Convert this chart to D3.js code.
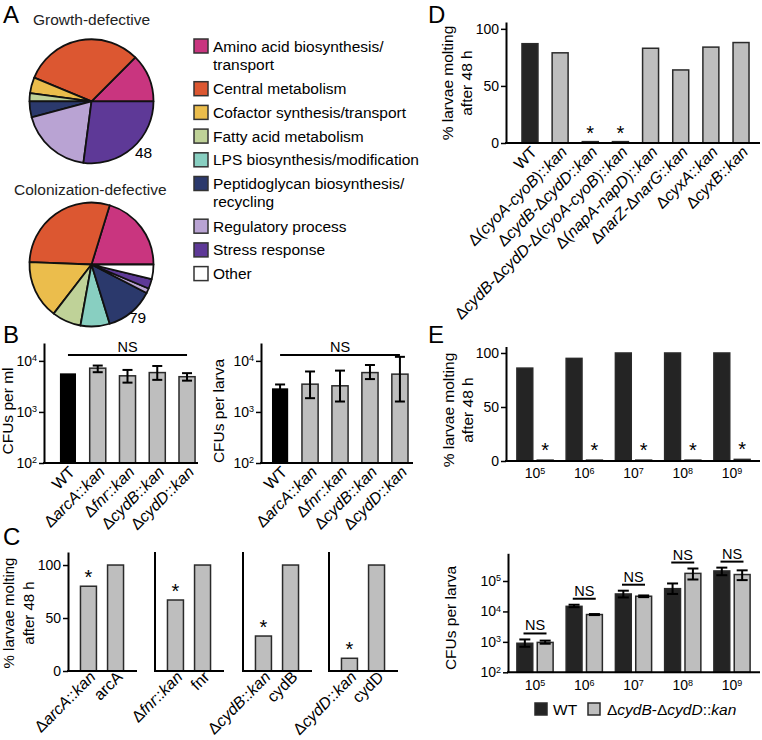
<!DOCTYPE html>
<html><head><meta charset="utf-8">
<script src="https://cdn.jsdelivr.net/npm/d3@7"></script>
<style>
body{margin:0;background:#fff}
svg{display:block;font-family:"Liberation Sans",Arial,Helvetica,sans-serif}
</style></head><body>
<svg id="chart" width="762" height="740"></svg>
<script>
// ================= DATA =================
// Panel A
const pieCategories = ["Amino acid biosynthesis/transport","Central metabolism","Cofactor synthesis/transport","Fatty acid metabolism","LPS biosynthesis/modification","Peptidoglycan biosynthesis/recycling","Regulatory process","Stress response","Other"];
const legendLines = [["Amino acid biosynthesis/","transport"],["Central metabolism"],["Cofactor synthesis/transport"],["Fatty acid metabolism"],["LPS biosynthesis/modification"],["Peptidoglycan biosynthesis/","recycling"],["Regulatory process"],["Stress response"],["Other"]];
const pieColors = ["#c9357f","#dc5731","#ebbd4c","#bfd298","#88cfc1","#2b396c","#b9a3d3","#5e3997","#ffffff"];
const growthDefectiveCounts = [6,15,2,1,0,2,9,13,0];
const colonizationDefectiveCounts = [16,23,12,6,6,10,1,2,3];
const pieTitles = ["Growth-defective","Colonization-defective"];
const pieTotals = ["48","79"];

// Panel B
const bStrains = ["WT","Δ_arcA_::_kan_","Δ_fnr_::_kan_","Δ_cydB_::_kan_","Δ_cydD_::_kan_"];
const bCfuPerMl   = [5700, 7200, 5100, 5900, 4900];
const bCfuPerMlLo = [null, 6000, 3750, 4250, 4100];
const bCfuPerMlHi = [null, 8100, 6650, 7950, 5750];
const bCfuPerLarva   = [2900, 3500, 3250, 5900, 5500];
const bCfuPerLarvaLo = [2500, 1860, 1600, 4400, 1600];
const bCfuPerLarvaHi = [3450, 6200, 6450, 8300, 12000];
const bLogTicks = [1e2, 1e3, 1e4];

// Panel C
const cLabels = [["Δ_arcA_::_kan_","arcA"],["Δ_fnr_::_kan_","fnr"],["Δ_cydB_::_kan_","cydB"],["Δ_cydD_::_kan_","cydD"]];
const cMolting = [[80,100],[67,100],[33,100],[12,100]];
const cSignificant = [[true,false],[true,false],[true,false],[true,false]];
const moltTicks = [0,50,100];

// Panel D
const dStrains = ["WT","Δ(_cyoA-cyoB_)::_kan_","Δ_cydB_-Δ_cydD_::_kan_","Δ_cydB_-Δ_cydD_-Δ(_cyoA-cyoB_)::_kan_","Δ(_napA-napD_)::_kan_","Δ_narZ_-Δ_narG_::_kan_","Δ_cyxA_::_kan_","Δ_cyxB_::_kan_"];
const dMolting = [87, 79, 1.2, 1.2, 83, 64, 84, 88];
const dSignificant = [false,false,true,true,false,false,false,false];

// Panel E
const eDoseExponents = [5,6,7,8,9];
const eSeries = ["WT","Δ_cydB_-Δ_cydD_::_kan_"];
const eWTMolting  = [86, 95, 100, 100, 100];
const eMutMolting = [0.8, 0.8, 0.8, 0.8, 1.5];
const eWTCfu   = [900, 14700, 37500, 56000, 214000];
const eWTLo    = [690, 13800, 28800, 37500, 155000];
const eWTHi    = [1200, 16600, 48000, 83000, 275000];
const eMutCfu  = [960, 7900, 31600, 178000, 163000];
const eMutLo   = [870, 7600, 29500, 112000, 107000];
const eMutHi   = [1100, 8200, 33500, 257000, 224000];
const eLogTicks = [1e2,1e3,1e4,1e5];

// ================= HELPERS =================
const svg = d3.select('#chart');
const GRAY = "#bebebe", DARK = "#242424", EDGE = "#2a2a2a";
const ROT_FS = 16;

function richText(sel, label) {
  label.split('_').forEach((p,i) => { if (p) sel.append('tspan').attr('font-style', i%2 ? 'italic' : 'normal').text(p); });
  return sel;
}
function styleAxis(g, fs) {
  g.attr('font-size', null).attr('font-family', null);
  g.select('.domain').attr('stroke','#000').attr('stroke-width',2);
  g.selectAll('.tick line').attr('stroke','#000').attr('stroke-width',1.5);
  g.selectAll('.tick text').attr('fill','#000').attr('font-size', fs);
}
function logLabels(g) {
  g.selectAll('.tick text').each(function(d){
    const t = d3.select(this); t.text(null);
    t.append('tspan').text('10');
    t.append('tspan').attr('dy','-0.5em').attr('font-size',9).text(Math.round(Math.log10(d)));
  });
}
function yAxis(g, scale, x, ticks, log) {
  const ax = g.append('g').attr('transform',`translate(${x},0)`)
    .call(d3.axisLeft(scale).tickValues(ticks).tickSize(5).tickPadding(2).tickSizeOuter(0).tickFormat(log ? () => '' : d3.format('d')));
  styleAxis(ax, 14);
  if (log) logLabels(ax);
  return ax;
}
function xLine(g, x0, x1, y) {
  g.append('line').attr('x1',x0-1).attr('x2',x1).attr('y1',y).attr('y2',y).attr('stroke','#000').attr('stroke-width',2);
}
function errorBar(g, cx, yA, yB, cap) {
  g.append('line').attr('x1',cx).attr('x2',cx).attr('y1',yA).attr('y2',yB).attr('stroke','#000').attr('stroke-width',2);
  [yA,yB].forEach(y => g.append('line').attr('x1',cx-cap/2).attr('x2',cx+cap/2).attr('y1',y).attr('y2',y).attr('stroke','#000').attr('stroke-width',2));
}
function bar(g, x, w, yTop, yBase, fill, stroke) {
  g.append('rect').attr('x',x).attr('width',w).attr('y',yTop).attr('height',Math.max(0.5,yBase-yTop))
    .attr('fill',fill).attr('stroke',stroke||'none').attr('stroke-width',stroke?1.5:0);
}
function rotLabel(g, cx, axisY, label, dy) {
  const t = g.append('text').attr('transform',`translate(${cx+8},${axisY+(dy==null?10:dy)}) rotate(-45)`)
    .attr('text-anchor','end').attr('font-size',ROT_FS);
  richText(t, label);
}
function yTitle(g, lines, xs, cy, fs) {
  lines.forEach((l,i) => g.append('text').attr('transform',`translate(${xs[i]},${cy}) rotate(-90)`)
    .attr('text-anchor','middle').attr('font-size',fs||15.5).text(l));
}
function star(g, cx, yTop) {
  g.append('text').attr('x',cx).attr('y',yTop-2).attr('text-anchor','middle').attr('font-size',20).text('*');
}
function nsMark(g, x0, x1, y) {
  g.append('line').attr('x1',x0).attr('x2',x1).attr('y1',y).attr('y2',y).attr('stroke','#000').attr('stroke-width',2);
  g.append('text').attr('x',(x0+x1)/2).attr('y',y-3).attr('text-anchor','middle').attr('font-size',14.5).text('NS');
}

// ================= PANEL LETTERS =================
[["A",3,23],["B",3,343],["C",3,545],["D",428,23],["E",428,343]].forEach(([t,x,y]) =>
  svg.append('text').attr('x',x).attr('y',y).attr('font-size',24).text(t));

// ================= PANEL A =================
const gA = svg.append('g');
function drawPie(counts, cx, cy, r) {
  const pie = d3.pie().sort(null).value(d=>d).startAngle(Math.PI/2).endAngle(Math.PI/2 - 2*Math.PI);
  const arc = d3.arc().innerRadius(0).outerRadius(r);
  gA.append('g').attr('transform',`translate(${cx},${cy})`)
    .selectAll('path').data(pie(counts).filter(a => a.value > 0)).join('path')
    .attr('d',arc).attr('fill',d=>pieColors[d.index]).attr('stroke','#111').attr('stroke-width',1.8).attr('stroke-linejoin','round');
}
gA.append('text').attr('x',33).attr('y',25).attr('font-size',15.5).attr('fill','#222').text(pieTitles[0]);
drawPie(growthDefectiveCounts, 91.5, 101.3, 62);
gA.append('text').attr('x',135).attr('y',158).attr('font-size',15.5).text(pieTotals[0]);
gA.append('text').attr('x',14).attr('y',195).attr('font-size',15.5).attr('fill','#222').text(pieTitles[1]);
drawPie(colonizationDefectiveCounts, 91.5, 264.5, 62);
gA.append('text').attr('x',129).attr('y',323).attr('font-size',15.5).text(pieTotals[1]);

let extra = 0;
legendLines.forEach((lines, i) => {
  const cy = 46 + 23.7*i + extra;
  gA.append('rect').attr('x',194).attr('y',cy-7).attr('width',14).attr('height',14)
    .attr('fill',pieColors[i]).attr('stroke','#333').attr('stroke-width',1.5);
  lines.forEach((l,j) => gA.append('text').attr('x',213).attr('y',cy+5.5+18*j).attr('font-size',15.5).text(l));
  if (lines.length > 1) extra += 19;
});

// ================= PANEL B =================
const gB = svg.append('g');
function panelB(x0, xEnd, bandRange, vals, lo, hi, title, titleX) {
  const y = d3.scaleLog().domain([100, 22400]).range([463, 343]);
  const x = d3.scaleBand().domain(bStrains).range(bandRange).paddingInner(0.46).paddingOuter(0.3);
  vals.forEach((v,i) => {
    const bx = x(bStrains[i]);
    bar(gB, bx, x.bandwidth(), y(v), 463, i===0 ? '#000' : GRAY, i===0 ? null : EDGE);
    if (lo[i] != null) errorBar(gB, bx + x.bandwidth()/2, y(lo[i]), y(hi[i]), 10);
    rotLabel(gB, bx + x.bandwidth()/2, 463, bStrains[i]);
  });
  yAxis(gB, y, x0, bLogTicks, true);
  xLine(gB, x0, xEnd, 463);
  nsMark(gB, x(bStrains[0]) + x.bandwidth()/2, x(bStrains[4]) + x.bandwidth()/2, 355);
  yTitle(gB, [title], [titleX], 411);
}
panelB(44, 198, [51, 204], bCfuPerMl, bCfuPerMlLo, bCfuPerMlHi, "CFUs per ml", 13);
panelB(261, 413, [263, 417], bCfuPerLarva, bCfuPerLarvaLo, bCfuPerLarvaHi, "CFUs per larva", 224);

// ================= PANEL C =================
const gC = svg.append('g');
const yC = d3.scaleLinear().domain([0, 112.3]).range([671, 552]);
const cAxisX = [68, 155, 243, 329];
cLabels.forEach((pair, k) => {
  const x0 = cAxisX[k];
  const x = d3.scaleBand().domain(pair).range([x0, x0+68]).paddingInner(0.41).paddingOuter(0.46);
  pair.forEach((lab, j) => {
    const bx = x(lab), cx = bx + x.bandwidth()/2, v = cMolting[k][j];
    bar(gC, bx, x.bandwidth(), yC(v), 671, GRAY, EDGE);
    if (cSignificant[k][j]) star(gC, cx, yC(v));
    rotLabel(gC, cx, 671, lab, 7);
  });
  if (k === 0) yAxis(gC, yC, x0, moltTicks, false);
  else gC.append('line').attr('x1',x0).attr('x2',x0).attr('y1',552).attr('y2',671).attr('stroke','#000').attr('stroke-width',2);
  xLine(gC, x0, x0+69, 671);
});
yTitle(gC, ["% larvae molting","after 48 h"], [14, 34], 613, 15);

// ================= PANEL D =================
const gD = svg.append('g');
const yD = d3.scaleLinear().domain([0,106]).range([143,22]);
const xD = d3.scaleBand().domain(dStrains).range([506,765]).paddingInner(0.47).paddingOuter(0.53);
dStrains.forEach((s,i) => {
  const bx = xD(s), cx = bx + xD.bandwidth()/2;
  bar(gD, bx, xD.bandwidth(), yD(dMolting[i]), 143, i===0 ? DARK : GRAY, EDGE);
  if (dSignificant[i]) star(gD, cx, yD(dMolting[i]));
  rotLabel(gD, cx, 143, s);
});
yAxis(gD, yD, 506, moltTicks, false);
xLine(gD, 506, 760, 143);
yTitle(gD, ["% larvae molting","after 48 h"], [453, 472], 83);

// ================= PANEL E =================
const gE = svg.append('g');
const xE = d3.scaleBand().domain(eDoseExponents).range([506,761]).paddingInner(0).paddingOuter(0.089);
const xEs = d3.scaleBand().domain(eSeries).range([0, xE.bandwidth()]).paddingInner(0.22).paddingOuter(0.32);
function doseLabel(g, e, y) {
  const t = g.append('text').attr('x', xE(e) + xE.bandwidth()/2).attr('y', y).attr('text-anchor','middle').attr('font-size',14);
  t.append('tspan').text('10');
  t.append('tspan').attr('dy','-0.5em').attr('font-size',9).text(e);
}
// E top: molting
const yEt = d3.scaleLinear().domain([0,106]).range([461,346.5]);
eDoseExponents.forEach((e,i) => {
  const bw = xEs.bandwidth();
  const bx1 = xE(e) + xEs(eSeries[0]), bx2 = xE(e) + xEs(eSeries[1]);
  bar(gE, bx1, bw, yEt(eWTMolting[i]), 461, DARK, EDGE);
  bar(gE, bx2, bw, yEt(eMutMolting[i]), 461, GRAY, EDGE);
  star(gE, bx2 + bw/2, yEt(eMutMolting[i]) - 1);
  doseLabel(gE, e, 478);
});
yAxis(gE, yEt, 506, moltTicks, false);
xLine(gE, 506, 760, 461);
yTitle(gE, ["% larvae molting","after 48 h"], [454, 473], 410);

// E bottom: CFUs
const yEb = d3.scaleLog().domain([100, 813000]).range([672.3, 553.3]);
eDoseExponents.forEach((e,i) => {
  const bw = xEs.bandwidth();
  const bx1 = xE(e) + xEs(eSeries[0]), bx2 = xE(e) + xEs(eSeries[1]);
  bar(gE, bx1, bw, yEb(eWTCfu[i]), 672.3, DARK, EDGE);
  errorBar(gE, bx1 + bw/2, yEb(eWTLo[i]), yEb(eWTHi[i]), 11);
  bar(gE, bx2, bw, yEb(eMutCfu[i]), 672.3, GRAY, EDGE);
  errorBar(gE, bx2 + bw/2, yEb(eMutLo[i]), yEb(eMutHi[i]), 11);
  const cx = xE(e) + xE.bandwidth()/2;
  nsMark(gE, cx - 11.5, cx + 11.5, yEb(Math.max(eWTHi[i], eMutHi[i])) - 6);
  doseLabel(gE, e, 690);
});
yAxis(gE, yEb, 508, eLogTicks, true);
xLine(gE, 508, 760, 672.3);
yTitle(gE, ["CFUs per larva"], [456], 618);

// E legend
const legE = gE.append('g');
legE.append('rect').attr('x',535).attr('y',703).attr('width',12).attr('height',12).attr('fill',DARK).attr('stroke',EDGE).attr('stroke-width',1.5);
legE.append('text').attr('x',553).attr('y',715).attr('font-size',15.5).text(eSeries[0]);
legE.append('rect').attr('x',588).attr('y',703).attr('width',12).attr('height',12).attr('fill',GRAY).attr('stroke',EDGE).attr('stroke-width',1.5);
richText(legE.append('text').attr('x',607).attr('y',715).attr('font-size',15.5), eSeries[1]);
</script>
</body></html>
